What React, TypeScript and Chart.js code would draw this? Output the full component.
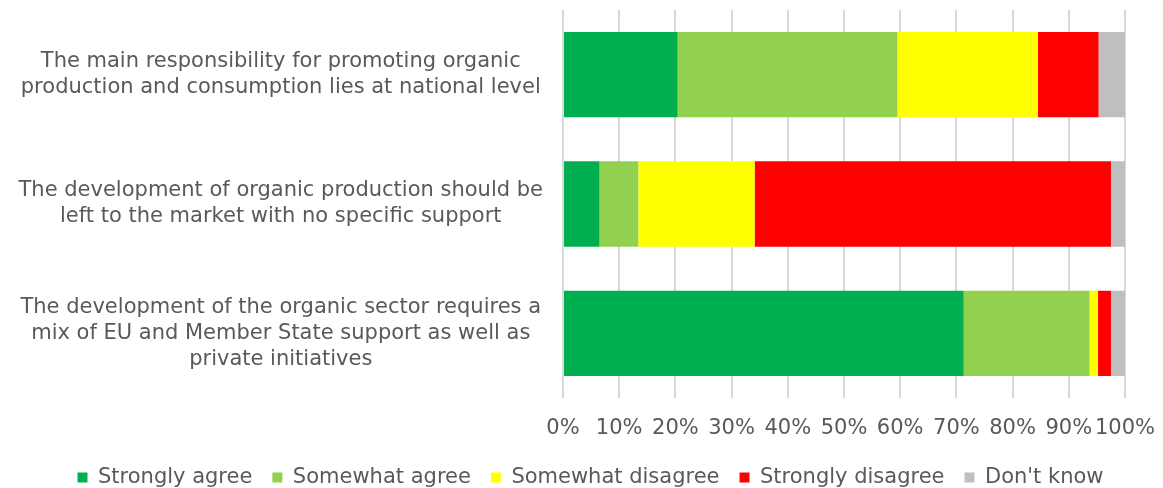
import React, { useEffect, useRef } from "react";
import { Chart, registerables } from "chart.js";

Chart.register(...registerables);

const categories: string[][] = [
  ["The main responsibility for promoting organic", "production and consumption lies at national level"],
  ["The development of organic production should be", "left to the market with no specific support"],
  ["The development of the organic sector requires a", "mix of EU and Member State support as well as", "private initiatives"],
];

const seriesNames = ["Strongly agree", "Somewhat agree", "Somewhat disagree", "Strongly disagree", "Don't know"];
const stronglyAgree = [20.4, 6.5, 71.3];
const somewhatAgree = [39.1, 6.9, 22.4];
const somewhatDisagree = [25.0, 20.7, 1.5];
const stronglyDisagree = [10.8, 63.4, 2.3];
const dontKnow = [4.7, 2.5, 2.5];
const colors = ["#00B050", "#92D050", "#FFFF00", "#FF0000", "#BFBFBF"];
const xTicks = [0, 10, 20, 30, 40, 50, 60, 70, 80, 90, 100];

const TEXT = "#595959";
const FONT = "'DejaVu Sans', Verdana, sans-serif";
const FS = 21;
const LEGEND_SHIFT = 28;

const legendShift = {
  id: "legendShift",
  afterLayout(chart: any) {
    if (chart.legend) {
      chart.legend.left += LEGEND_SHIFT;
      chart.legend.right += LEGEND_SHIFT;
    }
  },
};

export default function App() {
  const ref = useRef<HTMLCanvasElement | null>(null);
  useEffect(() => {
    document.body.style.margin = "0";
    const values = [stronglyAgree, somewhatAgree, somewhatDisagree, stronglyDisagree, dontKnow];
    const chart = new Chart(ref.current!, {
      type: "bar",
      data: {
        labels: categories,
        datasets: seriesNames.map((n, i) => ({
          label: n,
          data: values[i],
          backgroundColor: colors[i],
          borderWidth: 0,
          barPercentage: 0.66,
          categoryPercentage: 1,
        })),
      },
      plugins: [legendShift],
      options: {
        indexAxis: "y",
        animation: false,
        responsive: false,
        maintainAspectRatio: false,
        layout: { padding: { top: 10, right: 38, left: 0, bottom: -10 } },
        plugins: {
          legend: {
            position: "bottom",
            labels: {
              boxWidth: 10,
              boxHeight: 10,
              padding: 20,
              color: TEXT,
              font: { family: FONT, size: FS },
            },
          },
          tooltip: { enabled: false },
        },
        scales: {
          x: {
            stacked: true,
            min: 0,
            max: 100,
            afterBuildTicks: (scale: any) => {
              scale.ticks = xTicks.map((v) => ({ value: v }));
            },
            afterFit: (scale: any) => {
              scale.height = 49;
              scale.paddingLeft = 0;
              scale.paddingRight = 0;
            },
            grid: { color: "#D9D9D9", lineWidth: 2, drawTicks: false },
            border: { display: false },
            ticks: {
              padding: 18,
              maxRotation: 0,
              minRotation: 0,
              autoSkip: false,
              color: TEXT,
              font: { family: FONT, size: FS },
              callback: (v: any) => v + "%",
            },
          },
          y: {
            stacked: true,
            afterFit: (scale: any) => {
              scale.width = 563;
              scale.paddingTop = 0;
              scale.paddingBottom = 0;
            },
            grid: { display: false, drawTicks: false },
            border: { display: false },
            ticks: {
              crossAlign: "center",
              padding: 20,
              color: TEXT,
              font: { family: FONT, size: FS, lineHeight: 1.24 },
            },
          },
        },
      },
    });
    return () => chart.destroy();
  }, []);
  return (
    <div style={{ width: 1163, height: 488 }}>
      <canvas ref={ref} width={1163} height={488} style={{ display: "block" }} />
    </div>
  );
}
